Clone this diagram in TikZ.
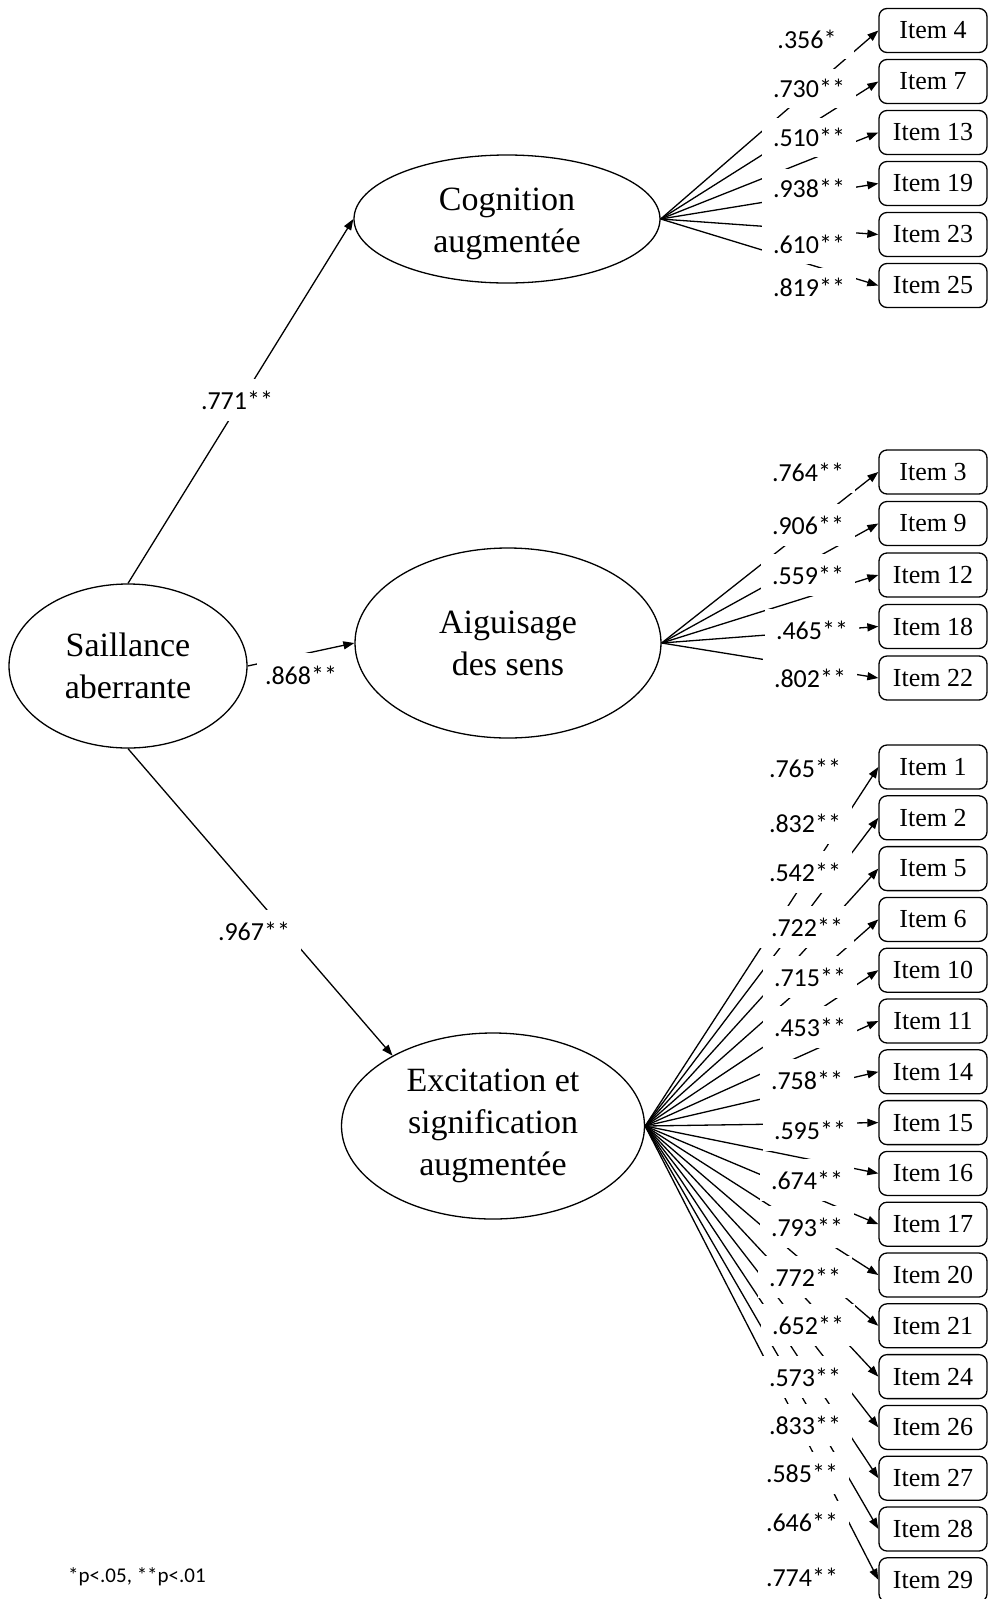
\documentclass[tikz,border=0pt]{standalone}
\usepackage{fontspec}
\setmainfont{Liberation Serif}
\newfontfamily\labfont{Carlito}
\usetikzlibrary{arrows.meta,shapes.geometric}
\begin{document}
\begin{tikzpicture}[x=1pt,y=-1pt,
  lat/.style={ellipse, draw, line width=1.3pt, inner sep=0pt, align=center,
    font=\fontsize{34}{42}\selectfont},
  lattext/.style={inner sep=0pt, align=center, font=\fontsize{34}{42}\selectfont},
  itembox/.style={draw, rounded corners=8pt, line width=1.3pt, minimum width=108pt,
    minimum height=44pt, inner sep=0pt, font=\fontsize{26}{30}\selectfont},
  load/.style={line width=1.3pt, -{Triangle[length=11pt,width=8pt]}},
  lbl/.style={fill=white, minimum width=94pt, minimum height=42pt, inner sep=0pt,
    font=\labfont\fontsize{26}{30}\selectfont},
]
\useasboundingbox (0,0) rectangle (988,1599);

% latent variables
\node[lat, minimum width=238pt, minimum height=164pt] (sal) at (128,666) {Saillance\\aberrante};
\node[lat, minimum width=306pt, minimum height=128pt] (cog) at (507,219) {};
\node[lattext] (cogtxt) at ([yshift=-5pt]cog.center) {Cognition\\augmentée};
\node[lat, minimum width=306pt, minimum height=190pt] (aig) at (508,643) {Aiguisage\\des sens};
\node[lat, minimum width=303pt, minimum height=186pt] (exc) at (493,1126) {Excitation et\\signification\\augmentée};

% structural paths
\draw[load] (sal.north) -- (cog.west);
\draw[load] (sal.east) -- (aig.west);
\draw[load] (sal.south) -- (exc.145);

% items
\foreach \n/\yy in {4/30.5, 7/81.5, 13/132.5, 19/183.5, 23/234.5, 25/285.5} {
  \node[itembox] (i\n) at (933,\yy) {Item \n};
  \draw[load] (cog.east) -- (i\n.west);
}
\foreach \n/\yy in {3/472, 9/523.5, 12/575, 18/626.5, 22/678} {
  \node[itembox] (i\n) at (933,\yy) {Item \n};
  \draw[load] (aig.east) -- (i\n.west);
}
\foreach \n [count=\k from 0] in {1,2,5,6,10,11,14,15,16,17,20,21,24,26,27,28,29} {
  \node[itembox] (i\n) at (933,767+50.8*\k) {Item \n};
  \draw[load] (exc.east) -- (i\n.west);
}

% loading labels
\foreach \t/\xx/\yy in {.356*/807/39, .730**/809/88, .510**/809/137, .938**/809/188,
    .610**/809/244, .819**/809/287} {
  \node[lbl, minimum height=39pt] at (\xx,\yy) {\t};
}
\foreach \t/\xx/\yy in {.764**/808/472, .906**/808/525, .559**/808/575, .465**/812/630,
    .802**/810/678} {
  \node[lbl] at (\xx,\yy) {\t};
}
\foreach \t/\xx/\yy in {.765**/805/768, .832**/805/823, .542**/805/872, .722**/807/927,
    .715**/810/977, .453**/810/1027, .758**/807/1080, .595**/810/1130, .674**/807/1180,
    .793**/807/1227, .772**/805/1277, .652**/808/1325, .573**/805/1377, .833**/805/1425,
    .585**/802/1473, .646**/802/1522, .774**/802/1577} {
  \node[lbl] at (\xx,\yy) {\t};
}

% structural labels
\node[lbl] (l1) at (237,400) {.771**};
\node[lbl, minimum width=88pt, minimum height=44pt] (l2) at (301,675) {.868**};
\node[lbl] (l3) at (254,931) {.967**};

% footnote
\node[font=\labfont\fontsize{21}{25}\selectfont, inner sep=0pt] (note) at (137,1577) {*p<.05, **p<.01};
\end{tikzpicture}
\end{document}
